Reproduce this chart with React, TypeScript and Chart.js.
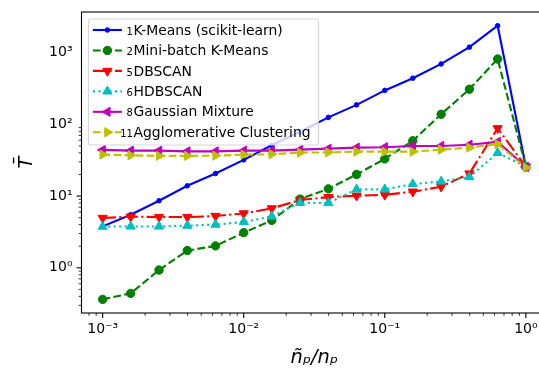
import React, { useEffect, useRef } from 'react';
import { Chart, registerables } from 'chart.js';

Chart.register(...registerables);

// x: sampled fraction ñp/np
const ratio = [0.001, 0.00158, 0.00251, 0.00398, 0.00631, 0.01, 0.0158, 0.0251, 0.0398, 0.0631, 0.1, 0.158, 0.251, 0.398, 0.631, 1];

// series values (T̄)
const kmeans = [3.78, 5.5, 8.6, 13.9, 20.6, 32, 51, 79, 125, 187, 297, 440, 695, 1190, 2370, 25.8];
const minibatch = [0.363, 0.44, 0.93, 1.74, 2.02, 3.09, 4.58, 9.08, 12.6, 20, 33, 59, 138, 309, 815, 25.8];
const dbscan = [4.95, 5.16, 5.1, 5.1, 5.27, 5.73, 6.73, 8.8, 9.68, 10.1, 10.4, 11.5, 13.5, 20.6, 88, 25.8];
const hdbscan = [3.75, 3.77, 3.77, 3.87, 4.0, 4.35, 5.2, 8.07, 8.0, 12.4, 12.4, 14.7, 16, 18.4, 40, 25.8];
const gaussian = [44, 43, 43, 42, 42, 43, 43, 44.4, 45.8, 47.3, 48, 50, 50, 52, 57, 25.5];
const agglo = [37.8, 37, 36.3, 36.3, 36.6, 37.8, 38.3, 40.3, 40.7, 41.6, 41.6, 41.6, 44.4, 47.3, 53, 25];

const seriesLabels = [
  '1K-Means (scikit-learn)',
  '2Mini-batch K-Means',
  '5DBSCAN',
  '6HDBSCAN',
  '8Gaussian Mixture',
  '11Agglomerative Clustering',
];

const xTickValues = [1e-3, 1e-2, 1e-1, 1];
const yTickValues = [1, 10, 100, 1000];
const supers: Record<string, string> = { '-': '⁻', '0': '⁰', '1': '¹', '2': '²', '3': '³', '4': '⁴' };
const decadeLabel = (v: number) => {
  const e = Math.round(Math.log10(v));
  return '10' + String(e).split('').map((c) => supers[c] || c).join('');
};

const FONT = "'DejaVu Sans', sans-serif";

type Style = {
  color: string;
  dash: number[];
  point: string;
  rot: number;
  r: number;
};

const styles: Style[] = [
  { color: '#0000ff', dash: [], point: 'circle', rot: 0, r: 2.3 },
  { color: '#008000', dash: [7.7, 3.3], point: 'circle', rot: 0, r: 4.2 },
  { color: '#ff0000', dash: [13.3, 3.3, 2.1, 3.3], point: 'triangle', rot: 180, r: 5.3 },
  { color: '#00bfbf', dash: [2.1, 3.4], point: 'triangle', rot: 0, r: 5.3 },
  { color: '#bf00bf', dash: [], point: 'triangle', rot: -90, r: 5.3 },
  { color: '#bfbf00', dash: [7.7, 3.3], point: 'triangle', rot: 90, r: 5.3 },
];

function drawMarker(ctx: CanvasRenderingContext2D, s: Style, x: number, y: number) {
  ctx.save();
  ctx.setLineDash([]);
  ctx.fillStyle = s.color;
  ctx.strokeStyle = s.color;
  ctx.lineWidth = 1;
  ctx.beginPath();
  if (s.point === 'circle') {
    ctx.arc(x, y, s.r, 0, Math.PI * 2);
  } else {
    let rad = (s.rot * Math.PI) / 180;
    ctx.moveTo(x + Math.sin(rad) * s.r, y - Math.cos(rad) * s.r);
    rad += (2 * Math.PI) / 3;
    ctx.lineTo(x + Math.sin(rad) * s.r, y - Math.cos(rad) * s.r);
    rad += (2 * Math.PI) / 3;
    ctx.lineTo(x + Math.sin(rad) * s.r, y - Math.cos(rad) * s.r);
    ctx.closePath();
  }
  ctx.fill();
  ctx.stroke();
  ctx.restore();
}

const decorPlugin = {
  id: 'decor',
  afterDatasetsDraw(chart: any) {
    const { ctx, chartArea: a, scales } = chart;
    const xs = scales.x;
    const ys = scales.y;
    ctx.save();
    ctx.setLineDash([]);
    ctx.strokeStyle = '#000';
    // minor + major ticks
    for (let d = -4; d <= 1; d++) {
      for (let m = 1; m <= 9; m++) {
        const v = m * Math.pow(10, d);
        const major = m === 1;
        const len = major ? 4.9 : 2.8;
        ctx.lineWidth = major ? 1.1 : 0.8;
        if (v >= xs.min && v <= xs.max) {
          const px = xs.getPixelForValue(v);
          ctx.beginPath();
          ctx.moveTo(px, a.bottom);
          ctx.lineTo(px, a.bottom + len);
          ctx.stroke();
        }
        if (v >= ys.min && v <= ys.max) {
          const py = ys.getPixelForValue(v);
          ctx.beginPath();
          ctx.moveTo(a.left, py);
          ctx.lineTo(a.left - len, py);
          ctx.stroke();
        }
      }
    }
    // frame
    ctx.lineWidth = 1.1;
    ctx.strokeRect(a.left, a.top, a.right - a.left, a.bottom - a.top);

    // legend
    const bx = a.left + 7;
    const by = a.top + 7;
    const rowStep = 20.46;
    const numRight = 44.4;
    const textOff = 45;
    const bigFont = `13.9px ${FONT}`;
    const smallFont = `10px ${FONT}`;
    const parts = chart.data.datasets.map((ds: any) => {
      const m = /^(\d+)(.*)$/.exec(ds.label) || ['', '', ds.label];
      return { num: m[1], rest: m[2] };
    });
    let maxW = 0;
    ctx.font = bigFont;
    parts.forEach((p: any) => {
      maxW = Math.max(maxW, ctx.measureText(p.rest).width);
    });
    const bw = textOff + maxW + 8;
    const bh = 126;
    ctx.beginPath();
    if ((ctx as any).roundRect) (ctx as any).roundRect(bx, by, bw, bh, 2.8);
    else ctx.rect(bx, by, bw, bh);
    ctx.fillStyle = 'rgba(255,255,255,0.8)';
    ctx.fill();
    ctx.strokeStyle = 'rgba(204,204,204,0.8)';
    ctx.lineWidth = 1.1;
    ctx.stroke();

    chart.data.datasets.forEach((ds: any, i: number) => {
      const s = styles[i];
      const cy = by + 11 + i * rowStep;
      ctx.save();
      ctx.strokeStyle = s.color;
      ctx.lineWidth = 2.1;
      ctx.setLineDash(s.dash);
      ctx.beginPath();
      ctx.moveTo(bx + 4.4, cy);
      ctx.lineTo(bx + 33.4, cy);
      ctx.stroke();
      ctx.restore();
      drawMarker(ctx, s, bx + 18.9, cy);
      const p = parts[i];
      const base = cy + 4.6;
      ctx.fillStyle = '#000';
      ctx.textBaseline = 'alphabetic';
      ctx.font = smallFont;
      ctx.textAlign = 'right';
      ctx.fillText(p.num, bx + numRight, base);
      ctx.font = bigFont;
      ctx.textAlign = 'left';
      ctx.fillText(p.rest, bx + textOff, base);
    });
    ctx.restore();
  },
};

const seriesValues = [kmeans, minibatch, dbscan, hdbscan, gaussian, agglo];

export default function App() {
  const ref = useRef<HTMLCanvasElement>(null);
  useEffect(() => {
    if (!ref.current) return;
    const datasets = seriesValues.map((vals, i) => {
      const s = styles[i];
      return {
        label: seriesLabels[i],
        data: ratio.map((x, j) => ({ x, y: vals[j] })),
        borderColor: s.color,
        backgroundColor: s.color,
        borderWidth: 2.1,
        borderDash: s.dash,
        tension: 0,
        fill: false,
        pointStyle: s.point,
        pointRotation: s.rot,
        pointRadius: s.r,
        pointBorderWidth: 1,
        pointBorderColor: s.color,
        pointBackgroundColor: s.color,
        order: 10 - i,
      };
    });
    const chart = new Chart(ref.current, {
      type: 'line',
      data: { datasets },
      plugins: [decorPlugin],
      options: {
        animation: false,
        responsive: false,
        devicePixelRatio: 1,
        layout: { autoPadding: false, padding: { top: 12, left: 0, right: 0, bottom: 0 } },
        plugins: { legend: { display: false }, tooltip: { enabled: false } },
        scales: {
          x: {
            type: 'logarithmic',
            min: Math.pow(10, -3.15),
            max: Math.pow(10, 0.15),
            grid: { display: false, drawTicks: false },
            border: { display: false },
            afterBuildTicks: (s: any) => {
              s.ticks = xTickValues.map((v) => ({ value: v }));
            },
            afterFit: (s: any) => {
              s.height = 57;
              s.paddingLeft = 0;
              s.paddingRight = 0;
            },
            ticks: {
              callback: (v: any) => decadeLabel(Number(v)),
              font: { family: FONT, size: 14 },
              color: '#000',
              padding: 8,
              maxRotation: 0,
              autoSkip: false,
            },
            title: {
              display: true,
              text: 'ñₚ/nₚ',
              font: { family: FONT, size: 19.4, style: 'italic' },
              color: '#000',
              padding: { top: 3.6, bottom: 0 },
            },
          },
          y: {
            type: 'logarithmic',
            min: Math.pow(10, -0.63),
            max: Math.pow(10, 3.566),
            grid: { display: false, drawTicks: false },
            border: { display: false },
            afterBuildTicks: (s: any) => {
              s.ticks = yTickValues.map((v) => ({ value: v }));
            },
            afterFit: (s: any) => {
              s.width = 81.5;
              s.paddingTop = 0;
              s.paddingBottom = 0;
            },
            ticks: {
              callback: (v: any) => decadeLabel(Number(v)),
              font: { family: FONT, size: 14 },
              color: '#000',
              padding: 9,
              autoSkip: false,
            },
            title: {
              display: true,
              text: 'T\u0304',
              font: { family: FONT, size: 19.4, style: 'italic' },
              color: '#000',
              padding: { top: 15, bottom: 0 },
            },
          },
        },
      },
    } as any);
    return () => chart.destroy();
  }, []);
  return (
    <div
      style={{
        position: 'fixed',
        left: 0,
        top: 0,
        width: 539,
        height: 370,
        overflow: 'hidden',
        background: '#fff',
      }}
    >
      <canvas ref={ref} width={547} height={370} style={{ display: 'block', width: 547, height: 370 }} />
    </div>
  );
}
